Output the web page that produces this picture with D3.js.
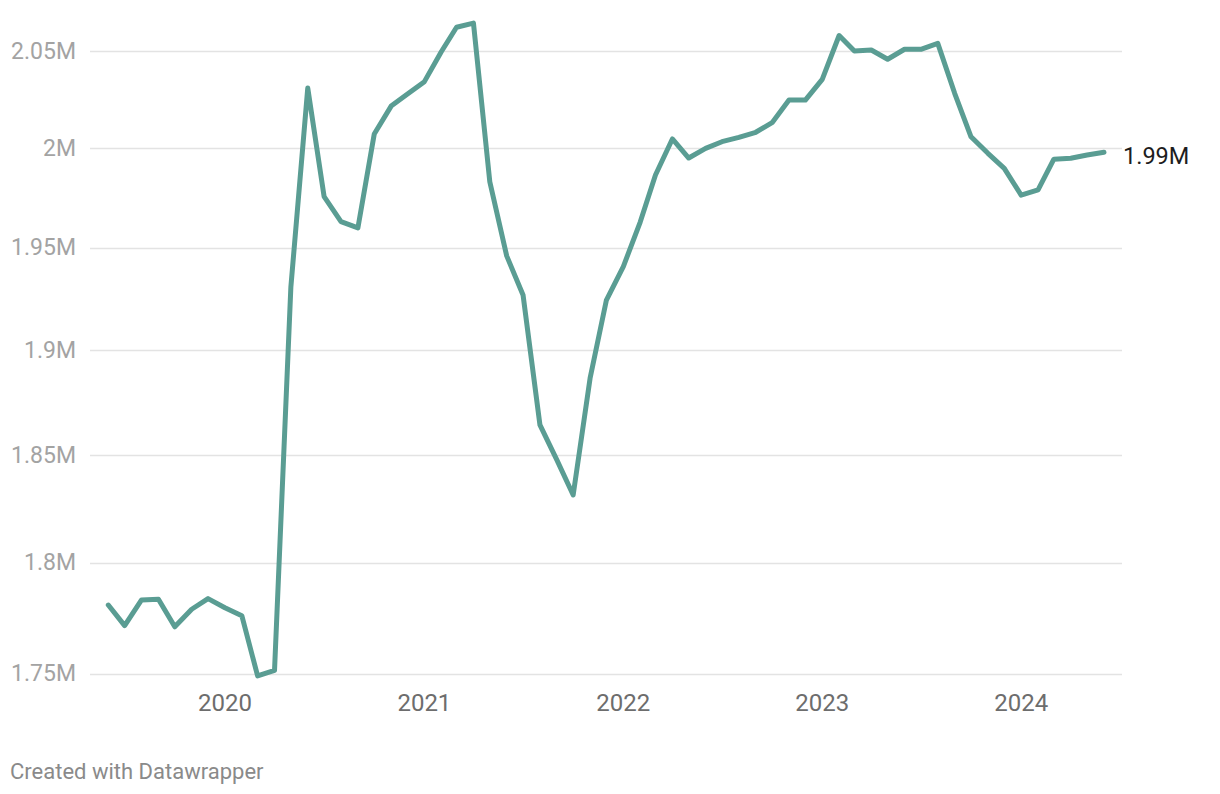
<!DOCTYPE html>
<html>
<head>
<meta charset="utf-8">
<script src="https://cdn.jsdelivr.net/npm/d3@7"></script>
<style>
  body { margin: 0; background: #fff; }
  svg { display: block; font-family: Roboto, "Noto Sans", sans-serif; }
</style>
</head>
<body>
<svg id="chart" width="1220" height="794"></svg>
<script>
// Monthly values, June 2019 .. June 2024
var startMonth = "2019-06"
var values = [
  1780800, 1771500, 1783100, 1783400, 1771000, 1778900, 1783700, 1779600, 1776000, 1749000,
  1751500, 1930700, 2030800, 1975500, 1963000, 1959900, 2007200, 2021500, 2027700, 2034100,
  2049600, 2062400, 2064600, 1983000, 1946000, 1926800, 1864200, 1847700, 1831300, 1886400,
  1924300, 1940700, 1962800, 1986400, 2004700, 1995000, 1999900, 2003300, 2005500, 2008100,
  2013000, 2024600, 2024600, 2035300, 2058100, 2050000, 2050500, 2045700, 2050900, 2050900,
  2054000, 2028100, 2005800, 1997400, 1989800, 1976300, 1978900, 1994400, 1994900, 1996500,
  1997900
]
var yTicks = [1750000, 1800000, 1850000, 1900000, 1950000, 2000000, 2050000]
var yTickLabels = ["1.75M", "1.8M", "1.85M", "1.9M", "1.95M", "2M", "2.05M"]
var xTickYears = [2020, 2021, 2022, 2023, 2024]
var lastLabel = "1.99M"
var credit = "Created with Datawrapper"

var parseMonth = d3.timeParse("%Y-%m")
var firstDate = parseMonth(startMonth)
var data = values.map(function(v, i) {
  return { date: d3.timeMonth.offset(firstDate, i), value: v }
})

var svg = d3.select('#chart')

var x = d3.scaleTime()
  .domain([data[0].date, data[data.length - 1].date])
  .range([108.3, 1104])

// log scale: spacing between gridlines grows towards the bottom
var y = d3.scaleLog()
  .domain([1750000, 2050000])
  .range([673.7, 51])

var gridLeft = 90, gridRight = 1122

// grid + y labels
var yAxis = svg.append('g').attr('class', 'y-axis')
yAxis.selectAll('line')
  .data(yTicks)
  .enter().append('line')
  .attr('x1', gridLeft)
  .attr('x2', gridRight)
  .attr('y1', function(d) { return Math.round(y(d)) + 0.5 })
  .attr('y2', function(d) { return Math.round(y(d)) + 0.5 })
  .attr('stroke', '#e3e3e3')
  .attr('stroke-width', 1.5)

yAxis.selectAll('text')
  .data(yTicks)
  .enter().append('text')
  .attr('x', 76)
  .attr('y', function(d) { return y(d) })
  .attr('dy', '0.33em')
  .attr('text-anchor', 'end')
  .attr('fill', '#a3a3a3')
  .style('font-size', '23px')
  .text(function(d, i) { return yTickLabels[i] })

// x labels
var xAxis = svg.append('g').attr('class', 'x-axis')
xAxis.selectAll('text')
  .data(xTickYears)
  .enter().append('text')
  .attr('x', function(d) { return x(new Date(d, 0, 1)) })
  .attr('y', 711)
  .attr('text-anchor', 'middle')
  .attr('fill', '#6d6d6d')
  .style('font-size', '24px')
  .text(function(d) { return d })

// the line
var line = d3.line()
  .x(function(d) { return x(d.date) })
  .y(function(d) { return y(d.value) })

svg.append('path')
  .datum(data)
  .attr('d', line)
  .attr('fill', 'none')
  .attr('stroke', '#5a9d93')
  .attr('stroke-width', 5)
  .attr('stroke-linejoin', 'round')
  .attr('stroke-linecap', 'round')

// end label
var last = data[data.length - 1]
svg.append('text')
  .attr('x', x(last.date) + 19)
  .attr('y', y(last.value) + 4)
  .attr('dy', '0.32em')
  .attr('fill', '#1d1d1d')
  .style('font-size', '23.5px')
  .text(lastLabel)

// footer
svg.append('text')
  .attr('x', 10)
  .attr('y', 779)
  .attr('fill', '#8a8a8a')
  .style('font-size', '22px')
  .text(credit)
</script>
</body>
</html>
